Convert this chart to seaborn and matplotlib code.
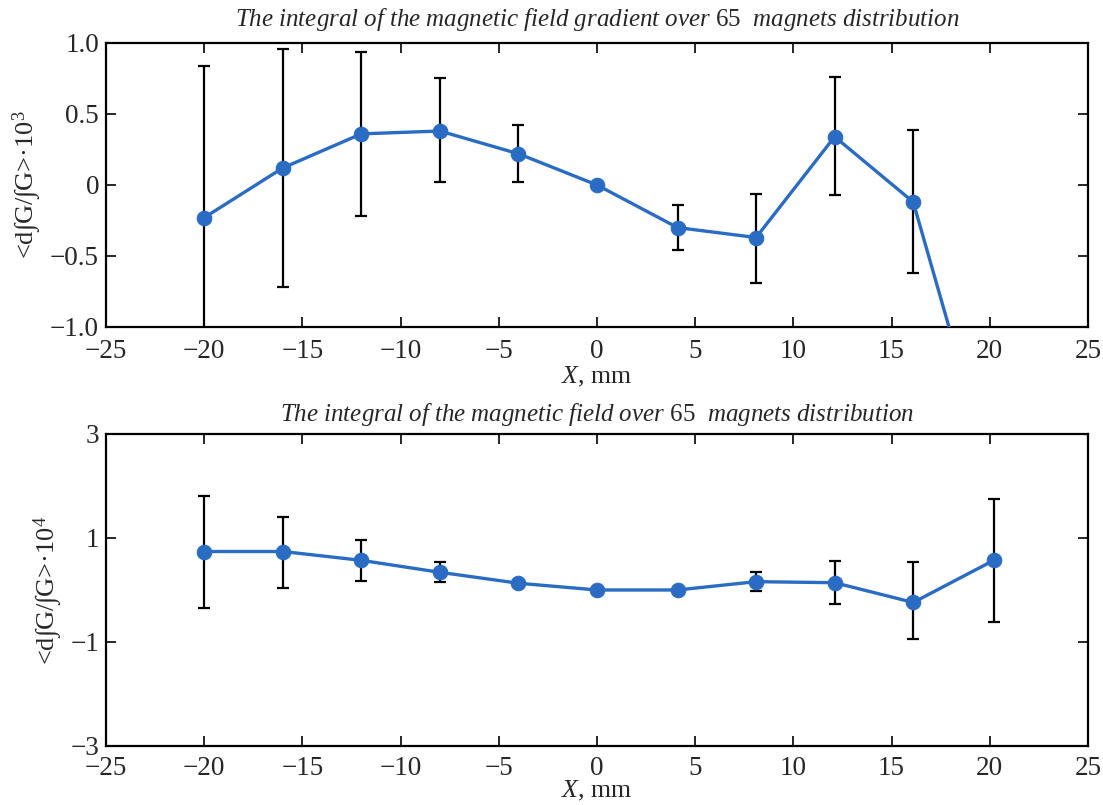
import numpy as np
import pandas as pd
import seaborn as sns
import matplotlib.pyplot as plt

# top panel: gradient integral
x_top = [-20, -16, -12, -8, -4, 0, 4.1, 8.1, 12.1, 16.1, 20.2]
y_top = [-0.23, 0.12, 0.36, 0.38, 0.22, 0.0, -0.30, -0.37, 0.34, -0.12, -2.1]
lo_top = [-1.3, -0.72, -0.22, 0.02, 0.02, np.nan, -0.46, -0.69, -0.07, -0.62, np.nan]
hi_top = [0.84, 0.96, 0.94, 0.75, 0.42, np.nan, -0.14, -0.06, 0.76, 0.39, np.nan]

# bottom panel: field integral
x_bot = [-20, -16, -12, -8, -4, 0, 4.1, 8.1, 12.1, 16.1, 20.2]
y_bot = [0.74, 0.74, 0.57, 0.34, 0.13, 0.0, 0.0, 0.16, 0.14, -0.24, 0.57]
lo_bot = [-0.34, 0.03, 0.18, 0.16, np.nan, np.nan, np.nan, -0.02, -0.26, -0.95, -0.61]
hi_bot = [1.80, 1.41, 0.97, 0.53, np.nan, np.nan, np.nan, 0.35, 0.55, 0.53, 1.74]

xticks = [-25, -20, -15, -10, -5, 0, 5, 10, 15, 20, 25]
xticklabels = ["\u221225", "\u221220", "\u221215", "\u221210", "\u22125", "0", "5", "10", "15", "20", "25"]
yticks_top = [1.0, 0.5, 0, -0.5, -1.0]
yticklabels_top = ["1.0", "0.5", "0", "\u22120.5", "\u22121.0"]
yticks_bot = [3, 1, -1, -3]
yticklabels_bot = ["3", "1", "\u22121", "\u22123"]

title_top = r"$\mathit{The\ integral\ of\ the\ magnetic\ field\ gradient\ over}$ 65  $\mathit{magnets\ distribution}$"
title_bot = r"$\mathit{The\ integral\ of\ the\ magnetic\ field\ over}$ 65  $\mathit{magnets\ distribution}$"
ylab_top = "<d\u222bG/\u222bG>\u00b7$10^3$"
ylab_bot = "<d\u222bG/\u222bG>\u00b7$10^4$"

sns.set_style("ticks")
plt.rcParams['font.family'] = ['Liberation Serif', 'DejaVu Serif']
plt.rcParams['mathtext.fontset'] = 'custom'
plt.rcParams['mathtext.rm'] = 'Liberation Serif'
plt.rcParams['mathtext.it'] = 'Liberation Serif:italic'
plt.rcParams['mathtext.bf'] = 'Liberation Serif:bold'

blue = "#2a6cc4"

fig = plt.figure(figsize=(11.03, 8.05), dpi=100)
ax1 = fig.add_axes([0.0961, 0.5938, 0.8903, 0.3528])
ax2 = fig.add_axes([0.0961, 0.0733, 0.8903, 0.3876])


def panel(ax, x, y, lo, hi, ylim, yticks, yticklabels, title, ylab, tpad, xpad, xlpad):
    df = pd.DataFrame({"x": x, "y": y, "lo": lo, "hi": hi})
    eb = df.dropna()
    ax.errorbar(eb["x"], eb["y"], yerr=[eb["y"] - eb["lo"], eb["hi"] - eb["y"]],
                fmt="none", ecolor="black", elinewidth=1.6, capsize=4.5,
                capthick=1.6, zorder=2)
    sns.lineplot(data=df, x="x", y="y", ax=ax, color=blue, linewidth=2.4,
                 marker="o", markersize=10.5, markeredgecolor=blue, zorder=3)
    ax.set_xlim(-25, 25)
    ax.set_ylim(*ylim)
    ax.set_xticks(xticks)
    ax.set_xticklabels(xticklabels)
    ax.set_yticks(yticks)
    ax.set_yticklabels(yticklabels)
    ax.tick_params(direction="in", top=True, right=True, length=7, width=1.4,
                   labelsize=19.5)
    ax.tick_params(axis="x", pad=xpad)
    ax.tick_params(axis="y", pad=5)
    for s in ax.spines.values():
        s.set_linewidth(1.6)
        s.set_color("black")
    ax.set_title(title, fontsize=18, pad=tpad)
    ax.set_ylabel(ylab, fontsize=19, labelpad=4)
    ax.set_xlabel(r"$X$, mm", fontsize=18.5, labelpad=xlpad)


panel(ax1, x_top, y_top, lo_top, hi_top, (-1, 1), yticks_top, yticklabels_top, title_top, ylab_top, 12, 9, 0)
panel(ax2, x_bot, y_bot, lo_bot, hi_bot, (-3, 3), yticks_bot, yticklabels_bot, title_bot, ylab_bot, 9, 7, -1)

fig.savefig("out.png", dpi=100)
